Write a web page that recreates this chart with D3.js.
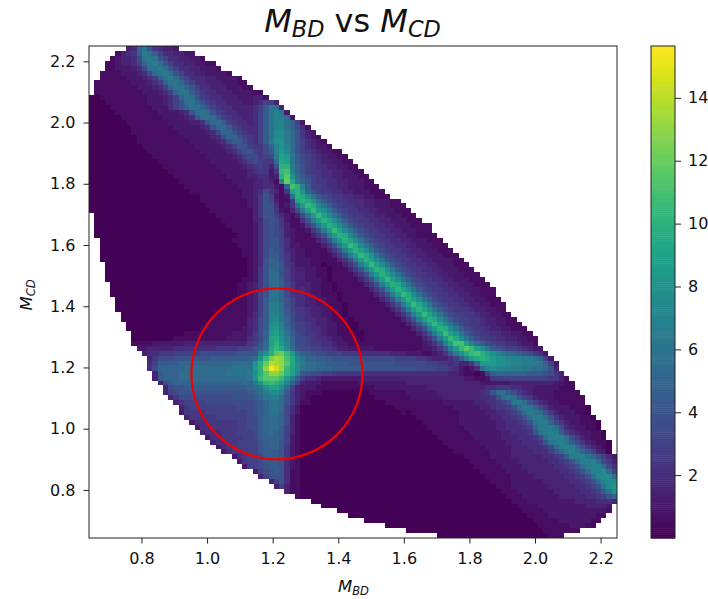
<!DOCTYPE html>
<html>
<head>
<meta charset="utf-8">
<script src="https://cdn.jsdelivr.net/npm/d3@7"></script>
<style>
  body { margin: 0; background: #fff; }
  text { font-family: "DejaVu Sans", sans-serif; fill: #111; }
</style>
</head>
<body>
<svg id="chart" width="708" height="599"></svg>
<script>
// axis ranges and ticks
var xRange = [0.64, 2.25];
var yRange = [0.643, 2.25];
var xTicks = [0.8, 1.0, 1.2, 1.4, 1.6, 1.8, 2.0, 2.2];
var yTicks = [0.8, 1.0, 1.2, 1.4, 1.6, 1.8, 2.0, 2.2];
var colorTicks = [2, 4, 6, 8, 10, 12, 14];
var colorRange = [0, 15.65];
var circleCenter = [1.213, 1.179];

// histogram, top row first, 100 columns.
// one char per bin: base 36 digit = 2 x count, "." = empty bin, spaces only help to read
var heatRows = [
".......34a c854332",
".....13459 dc96443322",
"....123347 cdc8644332 21",
"...1123346 acdb864433 2211",
"...1122234 7bcdb86443 32221",
"..11112223 47bcdb8644 3322221",
"..11111222 346acdb864 443322221",
".111111122 2346acca86 4433322211",
".111111112 22346acca8 6443332221 1",
".111111111 222346acc9 7544333222 211",
"0011111111 1222346acb 8654433322 2331",
"0001111111 12223468bc a865443332 234663",
"0000111111 11222468ac ca86544333 3469cc3",
"0000011111 1112222348 bcb8654433 3469cec2",
"0000001111 1111222234 8bcb865443 3469cedb2",
"0000000111 1111122223 348bb96544 3469ceeca6 2",
"0000000011 1111112222 2348ab9654 4469ceeca7 41",
"0000000011 1111111222 22347aa865 4469cffdb8 532",
"0000000001 1111111122 222347aa86 5469cffdb8 5321",
"0000000001 1111111112 2222347997 5469dggdb8 64321",
"0000000000 1111111111 2222234688 6557aegeb8 643221",
"0000000000 0111111111 1222223468 86579ehfb8 65432211",
"0000000000 0011111111 1122222346 77567dihc9 765432211",
"0000000000 0001111111 1112222234 67655bjic9 7654332211",
"0000000000 0000111111 1111222223 456538kkda 8654433221 1",
"0000000000 0000011111 1111122222 345525lmea 8655443322 11",
"0000000000 0000001111 1111112222 334423kngb 9765443322 211",
"0000000000 0000000111 1111111222 233431eojc a865544332 2211",
"0000000000 0000000011 1111111122 2334421amk e966544332 22111",
"0000000000 0000000001 1111111112 23475315ik ga86554433 222111",
"0000000000 0000000000 0111111112 23586212ck jfc9765544 3322111",
"0000000000 0000000000 0111111111 235873115i kjgc976554 443322211",
"0000000000 0000000000 0011111111 235884125b hljfc97655 4433222111",
"0000000000 0000000000 0001111111 1358852137 dilhfc9765 5443322211 1",
".000000000 0000000000 0000111111 1358864213 7chlifc976 5544332221 11",
".000000000 0000000000 0000011111 1347875211 48dhkifc97 6554433222 111",
".000000000 0000000000 0000001111 1247875311 258dhkifc9 7655443322 21111",
".000000000 0000000000 0000000111 1247876321 1258dhlifc 9765544332 22111",
".000000000 0000000000 0000000011 1247876321 11358dhkjf c976554433 221111",
"..00000000 0000000000 0000000111 1247886421 111358dhki fc97655443 3222111",
"..00000000 0000000000 0000000011 1247886422 1111358dhl jfc9765544 33222111",
"..00000000 0000000000 0000000001 1247987432 2111135 8dh kifc976554 433222111",
"..00000000 0000000000 0000000001 1247997532 2111113 58d hljgc97655 4433222111",
"..00000000 0000000000 0000000000 1248a97532 2211111358 dhkifc9765 5443322221 1",
"...0000000 0000000000 0000000000 1248aa8542 2211011135 8dhlifc976 5544332221 11",
"...0000000 0000000000 0000000000 1258ba8643 3221101113 58dhkjfc97 6554433222 111",
"...0000000 0000000000 0000000000 1258bb8643 3221101111 358dhkifc9 7655443322 2111",
"...0000000 0000000000 0000000001 1258bb9643 3222101111 1358dhlifc 9765544332 22111",
"....000000 0000000000 0000000011 2358bb9753 3322110111 11358dhkjf c976554433 222111",
"....000000 0000000000 0000000011 2358cca753 4322110111 111358dhki fc97655443 3222111",
"....000000 0000000000 0000000011 2368cca754 4322111011 1111358dhl jfc9765544 3322111",
".....00000 0000000000 0000000111 2369cca864 4332211011 11111358dh kifc976554 43322111",
".....00000 0000000000 0000001111 2369ddb864 4332211101 111111358d hljgc97655 443322111",
".....00000 0000000000 0000011111 2369ddb965 5433221101 1111111358 dhkifc9765 554332211",
"......0000 0000000000 0000111111 2469eec975 5433221101 1111111135 8dhlifc976 6554332211",
"......0000 0000000000 0001111111 3479efca75 5443321110 1111111113 58dhkjfc97 6655433221 1",
".......000 0000000000 0011111111 3479fgda86 6543322110 0111111111 358dhlifc9 7655433221 11",
".......000 0000000000 0111111112 3479gheb86 6544322110 0111111111 1358dhkjfc 9765543322 111",
"........00 0000000011 1111111222 357ahifc97 6554322111 0011111111 11358dhlig c976554433 2211",
"........00 0000001111 1111112222 457aijgda7 7654432211 1011111111 111358dhlj fc97655443 32211",
"........11 1122222233 3333333333 568bikhea7 7655443221 1111111111 1112358eim mieb976554 43221",
".........2 2333334444 4444555566 689cjljfb8 7766554332 2222111111 1112235 8dh lnlifc9876 654322",
".......... 3445556666 6777777788 88dgknolhc a987766655 5444444333 2221123 59d gjlmkigecb a987542",
".......... .357778888 8889999999 abglprqmje caa9998888 8877777766 6655433346 9dhjkjhgfe eeddca62",
".......... .469999aaa aaaaaaabbb bgkosrqnjf dbbaa99998 8888888877 7777665545 335ahhhggf eedddca62",
".......... .47aaaaabb bbbbbbbccc chkqvtqlif cbbaaa9999 9988888888 8877776654 2124befeed ddccbba83",
".......... ..39aaabbb bbbbbbcccc dgknqqolie 9877665555 5544444444 4444444433 2110169aaa aaa9998753",
".......... ..39aaabbb bbbbbbbbbb cglnnnlhd9 6443222222 2233333333 3333333333 3221125666 6666666553 1",
".......... ...379aaaa aaaaaaaaab adgklkiea6 3222111111 1222222222 3333333333 3333222222 3333333322 11",
".......... ....378899 9999999999 abcgiifb63 2221111111 1111222222 2222333333 3333344555 4433222221 11",
".......... ....367888 8888888888 9abdffd953 2111000000 0001111111 2222223333 3333458bb9 7543222211 111",
".......... .....35777 7777777888 89acddb853 2100000000 0000111111 1222222333 33334458bc b865322211 1111",
".......... ......3566 6677777777 789accb853 1100000000 0000001111 1111111222 2223344568 cdb8643221 1111",
".......... .......356 6666666677 789accb742 0000000000 0000000011 1111111112 2222334556 8bdca75322 21110",
".......... .......255 5566666666 789acca742 0000000000 0000000001 0111111111 2222233445 68bdcb8532 22110",
".......... ........35 5555666666 779abba731 0000000000 0000000000 0011111111 2222223344 568bddb853 222110",
".......... .........2 4455555566 779abba731 0000000000 0000000000 0001111111 2222222334 4568cdda75 3221110",
".......... .......... 2445555566 779abb9631 0000000000 0000000000 0000111111 1222222334 4456adddb7 4322110",
".......... .......... .344455566 679aba9631 0000000000 0000000000 0000011111 1122222233 44458cded9 64322110",
".......... .......... ..24455556 679aaa9621 0000000000 0000000000 0000001111 1112222233 344457bdee b7532110",
".......... .......... ...3445566 6689aa8621 0000000000 0000000000 0000000111 1111222223 3344458cde c97532110",
".......... .......... ....245566 6689aa8521 0000000000 0000000000 0000000011 1111122222 333444 57bd edb853210",
".......... .......... .....24556 6689998521 0000000000 0000000000 0000000001 1111112222 3333444 68b deca86320",
".......... .......... .......245 6679998521 0000000000 0000000000 0000000000 0111112222 3333334456 9ddeca8642",
".......... .......... ........25 6679998421 0000000000 0000000000 0000000000 0011111222 2333333445 68bdeeb753",
".......... .......... .........2 6678998421 0000000000 0000000000 0000000000 0001111122 2233333344 568bdeeb74",
".......... .......... .......... .267898411 0000000000 0000000000 0000000000 0000111112 2223333334 4568beefb6",
".......... .......... .......... ..36888411 0000000000 0000000000 0000000000 0000011111 2222333333 44568beffb",
".......... .......... .......... ....368411 0000000000 0000000000 0000000000 0000001111 2222223333 344568beff",
".......... .......... .......... .....36311 0000000000 0000000000 0000000000 0000000111 2222222333 3344568cfg",
".......... .......... .......... .......311 0000000000 0000000000 0000000000 0000000011 1222222233 33344569cg",
".......... .......... .......... .........1 0000000000 0000000000 0000000000 0000000001 1122222223 333344568a",
".......... .......... .......... .......... ..00000000 0000000000 0000000000 0000000000 1112222222 2233334443",
".......... .......... .......... .......... ....000000 0000000000 0000000000 0000000000 0111122222 222233332",
".......... .......... .......... .......... .......000 0000000000 0000000000 0000000000 0011112222 222222221",
".......... .......... .......... .......... .........0 0000000000 0000000000 0000000000 0001111222 22222211",
".......... .......... .......... .......... .......... ..00000000 0000000000 0000000000 0000111112 2222211",
".......... .......... .......... .......... .......... ......0000 0000000000 0000000000 0000011111 122211",
".......... .......... .......... .......... .......... .......... 0000000000 0000000000 0000001111 111",
".......... .......... .......... .......... .......... .......... ......0000 0000000000 0000000111"
];

var margin = {top: 46, right: 91, bottom: 61, left: 89};
var svg = d3.select("#chart");
var width = 708 - margin.left - margin.right;
var height = 599 - margin.top - margin.bottom;

var x = d3.scaleLinear().domain(xRange).range([margin.left, margin.left + width]);
var y = d3.scaleLinear().domain(yRange).range([margin.top + height, margin.top]);
var color = d3.scaleSequential(d3.interpolateViridis).domain(colorRange);

// bin index -> data value, 100 bins on both axes
var xBin = d3.scaleLinear().domain([0, 100]).range(xRange);
var yBin = d3.scaleLinear().domain([0, 100]).range([yRange[1], yRange[0]]);

var cells = [];
heatRows.forEach(function (row, j) {
  row.replace(/ /g, "").split("").forEach(function (c, i) {
    if (c === ".") return;
    cells.push({i: i, j: j, v: Math.max(parseInt(c, 36) / 2, 0.1)});
  });
});

svg.append("g").selectAll("rect")
  .data(cells)
  .join("rect")
  .attr("x", d => x(xBin(d.i)))
  .attr("y", d => y(yBin(d.j)))
  .attr("width", d => x(xBin(d.i + 1)) - x(xBin(d.i)))
  .attr("height", d => y(yBin(d.j + 1)) - y(yBin(d.j)))
  .attr("fill", d => color(d.v))
  .attr("shape-rendering", "crispEdges");

// the red ring is a marker, round in pixels
svg.append("circle")
  .attr("cx", x(circleCenter[0]))
  .attr("cy", y(circleCenter[1]))
  .attr("r", 85.5)
  .attr("fill", "none")
  .attr("stroke", "#f00000")
  .attr("stroke-width", 2.2);

svg.append("rect")
  .attr("x", margin.left)
  .attr("y", margin.top)
  .attr("width", width)
  .attr("height", height)
  .attr("fill", "none")
  .attr("stroke", "#222")
  .attr("stroke-width", 1);

var fmt = d3.format(".1f");
var xAxis = svg.append("g")
  .attr("transform", "translate(0," + (margin.top + height) + ")")
  .call(d3.axisBottom(x).tickValues(xTicks).tickFormat(fmt).tickSize(5.5).tickSizeOuter(0).tickPadding(9));
var yAxis = svg.append("g")
  .attr("transform", "translate(" + margin.left + ",0)")
  .call(d3.axisLeft(y).tickValues(yTicks).tickFormat(fmt).tickSize(5.5).tickSizeOuter(0).tickPadding(8));

// colorbar
var barX = 651, barW = 24;
var barScale = d3.scaleLinear().domain(colorRange).range([margin.top + height, margin.top]);
var steps = d3.range(0, 256).map(k => colorRange[0] + (colorRange[1] - colorRange[0]) * k / 256);
var stepH = height / 256;
svg.append("g").selectAll("rect")
  .data(steps)
  .join("rect")
  .attr("x", barX)
  .attr("y", d => barScale(d) - stepH)
  .attr("width", barW)
  .attr("height", stepH + 0.5)
  .attr("fill", d => color(d));
svg.append("rect")
  .attr("x", barX)
  .attr("y", margin.top)
  .attr("width", barW)
  .attr("height", height)
  .attr("fill", "none")
  .attr("stroke", "#222");
var cAxis = svg.append("g")
  .attr("transform", "translate(" + (barX + barW) + ",0)")
  .call(d3.axisRight(barScale).tickValues(colorTicks).tickSize(6).tickSizeOuter(0).tickPadding(7));

[xAxis, yAxis, cAxis].forEach(function (a) {
  a.select(".domain").remove();
  a.selectAll("line").attr("stroke", "#222");
  a.selectAll("text").style("font-size", "16px").attr("fill", "#222");
});

// math style labels: italic M with a smaller italic subscript
function mathLabel(sel, sub, size) {
  sel.append("tspan").attr("font-style", "italic").style("font-size", size + "px").text("M");
  sel.append("tspan").attr("font-style", "italic").style("font-size", (size * 0.7) + "px")
    .attr("dy", size * 0.16).text(sub);
}

var title = svg.append("text")
  .attr("x", 352.5).attr("y", 32).attr("text-anchor", "middle");
mathLabel(title, "BD", 32);
title.append("tspan").attr("dy", -32 * 0.16).style("font-size", "32px").text(" vs ");
mathLabel(title, "CD", 32);

var xLabel = svg.append("text")
  .attr("x", 353.5).attr("y", 592).attr("text-anchor", "middle");
mathLabel(xLabel, "BD", 16.5);

var yLabel = svg.append("text")
  .attr("transform", "translate(32,295) rotate(-90)").attr("text-anchor", "middle");
mathLabel(yLabel, "CD", 16.5);
</script>
</body>
</html>
